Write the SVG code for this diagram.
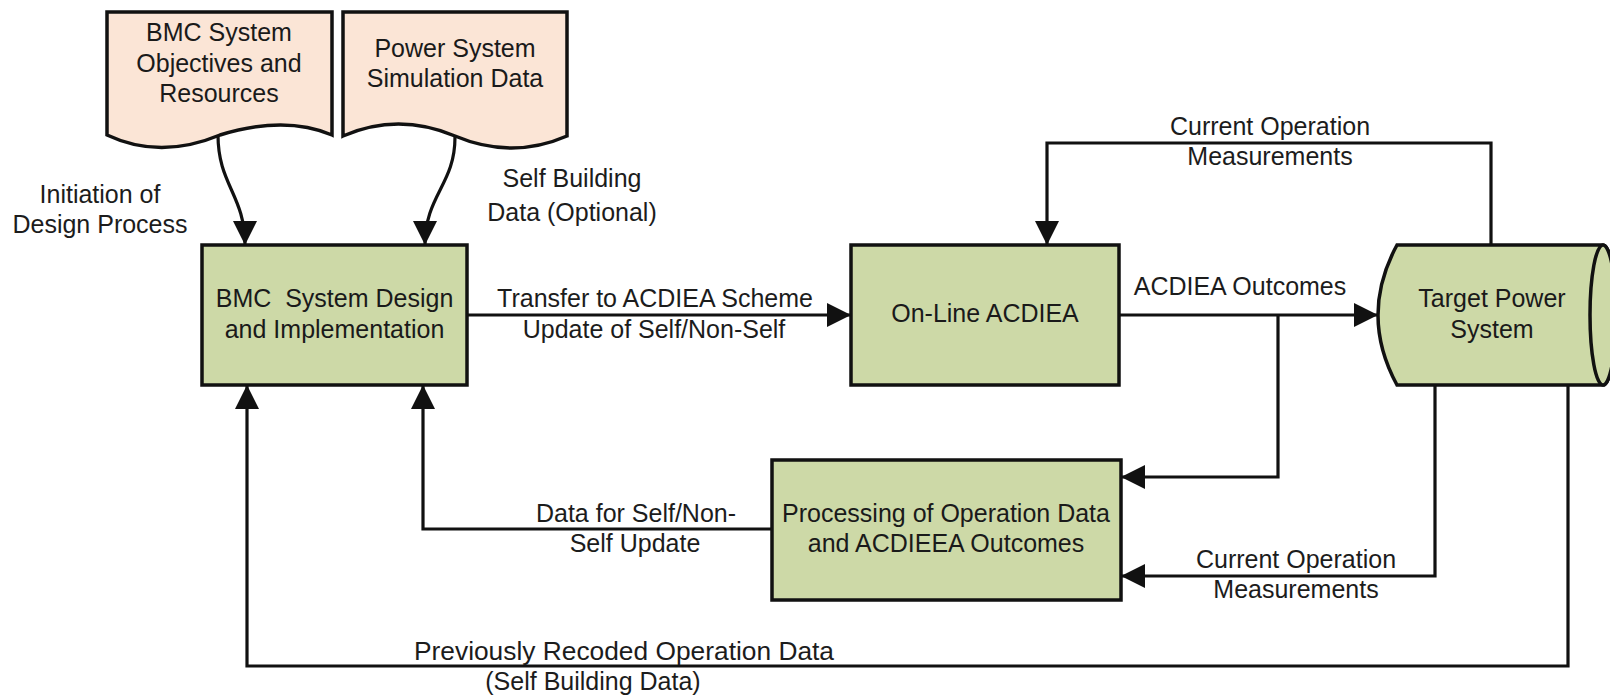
<svg xmlns="http://www.w3.org/2000/svg" width="1610" height="696" viewBox="0 0 1610 696">
<defs>
<style>
text{font-family:"Liberation Sans",Arial,sans-serif;font-size:25px;fill:#1c1c1c;text-anchor:middle}
.box{fill:#cdd9a7;stroke:#111;stroke-width:3.5}
.doc{fill:#fbe5d6;stroke:#111;stroke-width:3.5}
.ln{fill:none;stroke:#111;stroke-width:3.2}
.in{fill:#1a1a1a}
</style>
<marker id="ah" markerUnits="userSpaceOnUse" markerWidth="26" markerHeight="26" refX="24" refY="12" orient="auto" viewBox="0 0 26 26">
<path d="M0,0 L24,12 L0,24 Z" fill="#111"/>
</marker>
</defs>
<rect width="1610" height="696" fill="#fff"/>

<g id="doc-objectives">
<path class="doc" d="M107,12 H332 V135 Q285,115 220,135 Q160,160 107,135 Z"/>
<text x="219" y="41" class="in">BMC System</text>
<text x="219" y="72" class="in">Objectives and</text>
<text x="219" y="102" class="in">Resources</text>
</g>

<g id="doc-simulation">
<path class="doc" d="M343,12 H567 V136 Q512,160 455,136 Q398,112 343,136 Z"/>
<text x="455" y="57" class="in">Power System</text>
<text x="455" y="87" class="in">Simulation Data</text>
</g>

<g id="box-design">
<rect class="box" x="202" y="245" width="265" height="140"/>
<text x="334.5" y="307" class="in" xml:space="preserve">BMC  System Design</text>
<text x="334.5" y="338" class="in">and Implementation</text>
</g>

<g id="box-online">
<rect class="box" x="851" y="245" width="268" height="140"/>
<text x="985" y="322" class="in">On-Line ACDIEA</text>
</g>

<g id="target-power-system">
<path class="box" d="M1397,245 H1603 A13,70 0 0,1 1603,385 H1397 Q1359,315 1397,245 Z"/>
<ellipse class="box" cx="1603" cy="315" rx="13" ry="70"/>
<text x="1492" y="307" class="in">Target Power</text>
<text x="1492" y="338" class="in">System</text>
</g>

<g id="box-processing">
<rect class="box" x="772" y="460" width="349" height="140"/>
<text x="946" y="522" class="in">Processing of Operation Data</text>
<text x="946" y="552" class="in">and ACDIEEA Outcomes</text>
</g>

<g id="connectors">
<path class="ln" d="M218,135 C218,185 245,195 245,245" marker-end="url(#ah)"/>
<path class="ln" d="M455,137 C455,185 425,195 425,245" marker-end="url(#ah)"/>
<path class="ln" d="M467,315 H851" marker-end="url(#ah)"/>
<path class="ln" d="M1119,315 H1378" marker-end="url(#ah)"/>
<path class="ln" d="M1491,245 V143 H1047 V245" marker-end="url(#ah)"/>
<path class="ln" d="M1278,315 V477 H1121" marker-end="url(#ah)"/>
<path class="ln" d="M1435,385 V576 H1121" marker-end="url(#ah)"/>
<path class="ln" d="M772,529 H423 V385" marker-end="url(#ah)"/>
<path class="ln" d="M1568,385 V666 H247 V385" marker-end="url(#ah)"/>
</g>

<g id="labels">
<text x="100" y="203">Initiation of</text>
<text x="100" y="233">Design Process</text>
<text x="572" y="187">Self Building</text>
<text x="572" y="221">Data (Optional)</text>
<text x="655" y="307">Transfer to ACDIEA Scheme</text>
<text x="654" y="338">Update of Self/Non-Self</text>
<text x="1240" y="295">ACDIEA Outcomes</text>
<text x="1270" y="135">Current Operation</text>
<text x="1270" y="165">Measurements</text>
<text x="636" y="522">Data for Self/Non-</text>
<text x="635" y="552">Self Update</text>
<text x="1296" y="568">Current Operation</text>
<text x="1296" y="598">Measurements</text>
<text x="624" y="660" textLength="420" lengthAdjust="spacingAndGlyphs">Previously Recoded Operation Data</text>
<text x="593" y="690">(Self Building Data)</text>
</g>
</svg>
